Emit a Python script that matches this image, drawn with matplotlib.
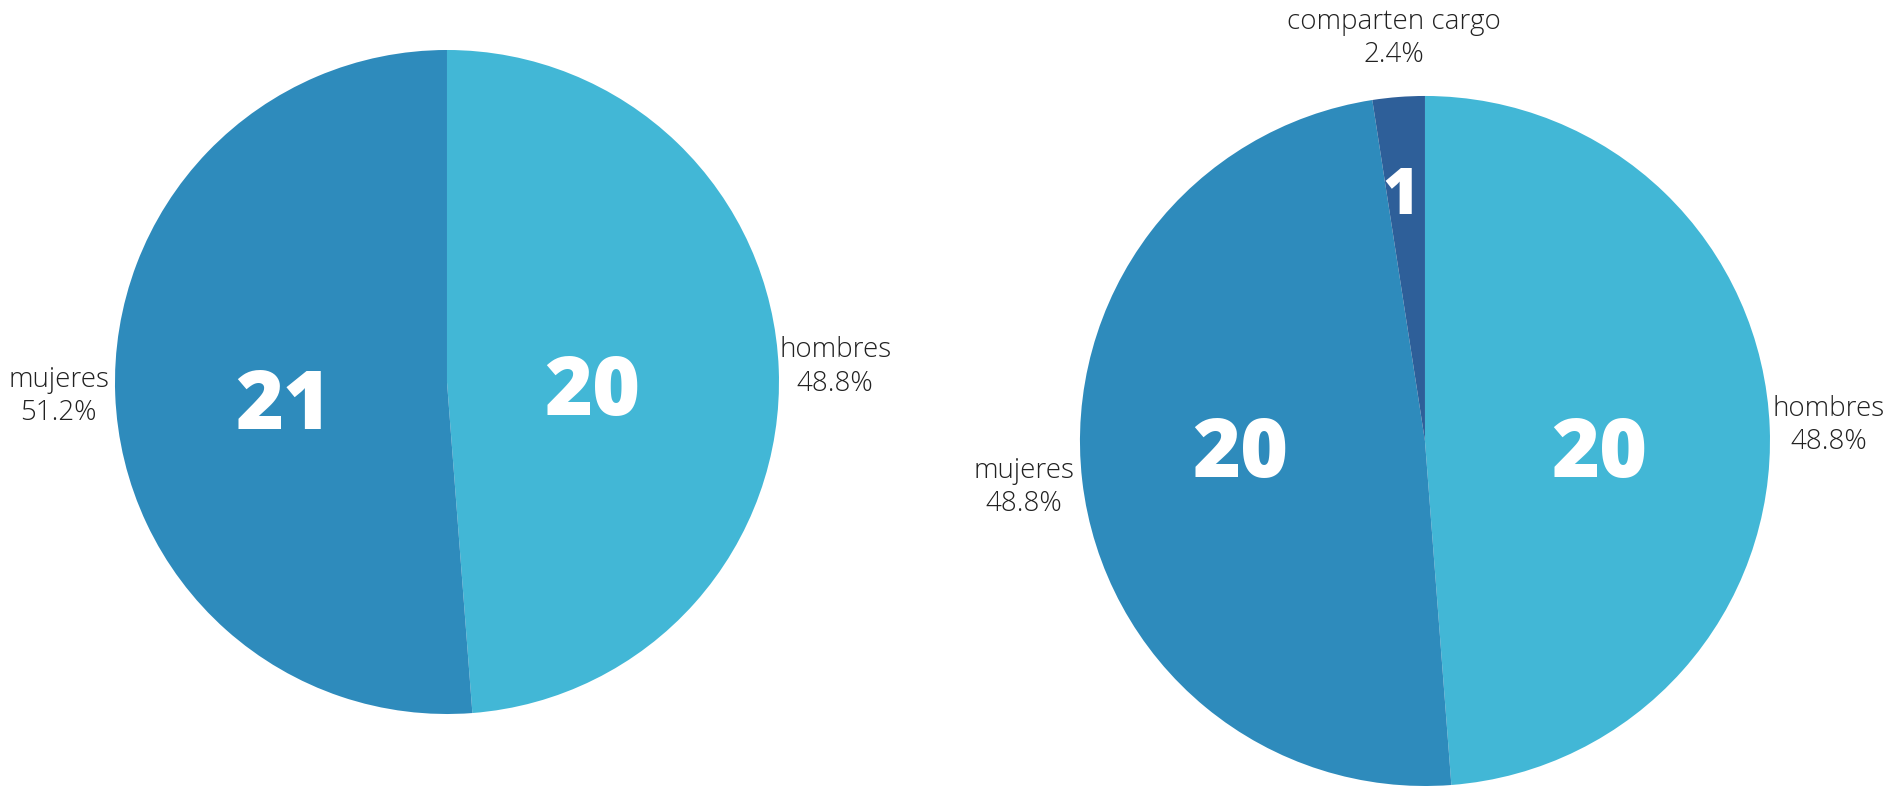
import numpy as np
import matplotlib.pyplot as plt

# seats held by women / men, before and after
labels_left = ['hombres', 'mujeres']
counts_left = [20, 21]
labels_right = ['hombres', 'mujeres', 'comparten cargo']
counts_right = [20, 20, 1]

colors = {'hombres': '#42b7d6', 'mujeres': '#2e8bbc', 'comparten cargo': '#2e5f99'}

plt.rcParams['font.family'] = ['Open Sans', 'DejaVu Sans']

fig = plt.figure(figsize=(18.88, 7.86), dpi=100)


def draw_pie(rect, labels, counts, num_pos, num_size):
    ax = fig.add_axes(rect)
    wedges, _ = ax.pie(counts, colors=[colors[l] for l in labels], startangle=90,
                       counterclock=False, wedgeprops=dict(linewidth=0))
    total = sum(counts)
    for w, lab, n, xy, fs in zip(wedges, labels, counts, num_pos, num_size):
        mid = np.deg2rad((w.theta1 + w.theta2) / 2)
        # count inside the slice
        ax.text(xy[0], xy[1], str(n), ha='center', va='center_baseline',
                color='white', fontsize=fs, fontweight=800)
        # name and share outside the slice
        ax.text(1.17 * np.cos(mid), 1.17 * np.sin(mid),
                '%s\n%.1f%%' % (lab, 100 * n / total), ha='center', va='center',
                color='#222222', fontsize=20, fontweight=300, linespacing=1.25)
    ax.set_xlim(-1, 1)
    ax.set_ylim(-1, 1)
    ax.set_aspect('equal')
    ax.axis('off')


draw_pie([0.0609, 0.0916, 0.3517, 0.8448], labels_left, counts_left,
         [(0.437, -0.006), (-0.494, -0.048)], [59, 59])
draw_pie([0.572, 0.0, 0.3655, 0.8779], labels_right, counts_right,
         [(0.504, -0.014), (-0.536, -0.014), (-0.07, 0.728)], [59, 59, 45])

fig.savefig('out.png', dpi=100)
